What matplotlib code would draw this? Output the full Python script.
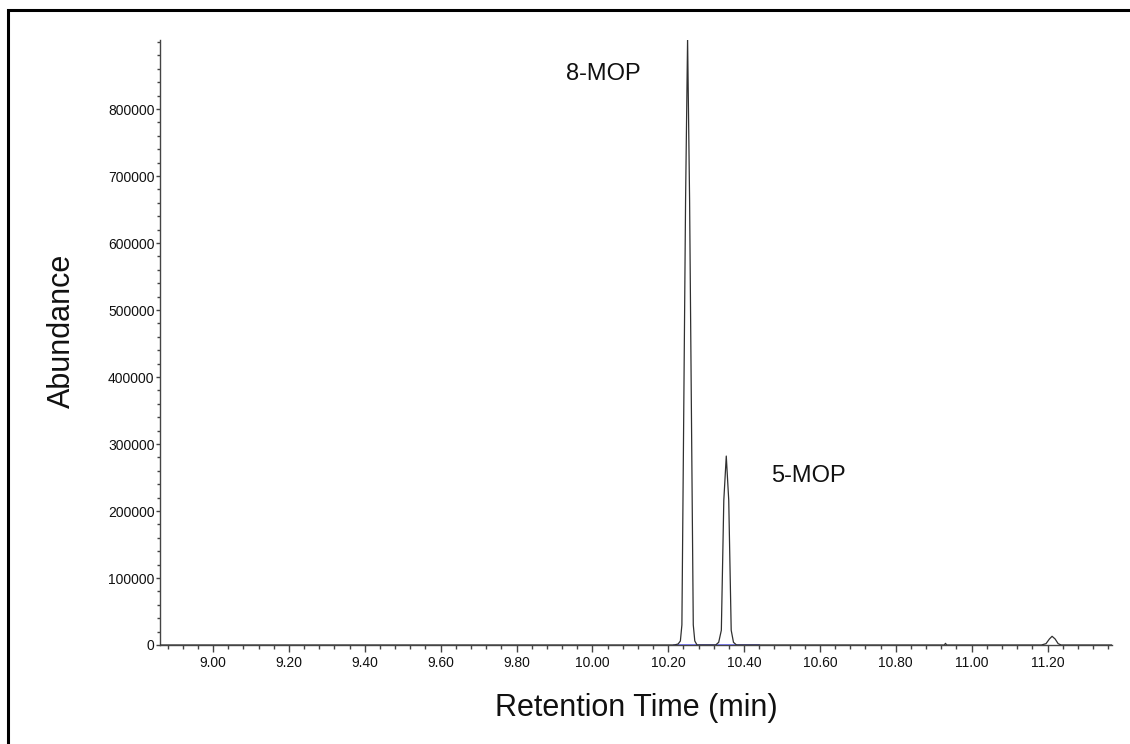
import matplotlib
matplotlib.use("Agg")
import matplotlib.pyplot as plt
from matplotlib.patches import Rectangle
from matplotlib.ticker import MultipleLocator, FixedLocator, FormatStrFormatter

plt.rcParams["font.family"] = ["Liberation Sans", "DejaVu Sans"]

# Chromatogram trace (retention time in min, abundance)
rt = [8.86, 10.216, 10.226, 10.232, 10.236, 10.240, 10.2457, 10.251, 10.2563,
      10.262, 10.266, 10.270, 10.276, 10.325, 10.333, 10.340, 10.3465, 10.353,
      10.3595, 10.366, 10.372, 10.380, 10.928, 10.931, 10.934, 11.184, 11.196,
      11.205, 11.212, 11.220, 11.228, 11.236, 11.37]
abundance = [0, 0, 1500, 6000, 30000, 290000, 664000, 905000, 664000,
             290000, 30000, 6000, 0, 0, 4000, 22000, 216000, 282000,
             216000, 22000, 4000, 0, 0, 2500, 0, 0, 2000,
             9000, 13000, 9000, 2000, 0, 0]

# integration baseline (blue) under the two peaks
baseline_rt = [10.216, 10.44]
baseline_ab = [0, 0]

peak_names = ["8-MOP", "5-MOP"]
peak_label_rt = [10.03, 10.57]
peak_label_ab = [852000, 252000]

y_ticks = [0, 100000, 200000, 300000, 400000, 500000, 600000, 700000, 800000]

fig = plt.figure(figsize=(11.3, 7.44), dpi=100)
ax = fig.add_axes([160 / 1130, 99 / 744, 952 / 1130, 605 / 744])

ax.plot(baseline_rt, baseline_ab, color="#6a6aff", linewidth=1.2, zorder=2)
ax.plot(rt, abundance, color="#303030", linewidth=0.9, zorder=3)

for name, x, y in zip(peak_names, peak_label_rt, peak_label_ab):
    ax.text(x, y, name, fontsize=17, ha="center", va="center", color="#111111")

ax.set_xlim(8.86, 11.37)
ax.set_ylim(0, 903000)

ax.xaxis.set_major_locator(MultipleLocator(0.2))
ax.xaxis.set_minor_locator(MultipleLocator(0.04))
ax.xaxis.set_major_formatter(FormatStrFormatter("%.2f"))
ax.yaxis.set_major_locator(FixedLocator(y_ticks))
ax.yaxis.set_minor_locator(MultipleLocator(20000))
ax.yaxis.set_major_formatter(FormatStrFormatter("%d"))

ax.tick_params(axis="x", which="major", labelsize=10, length=5, width=1,
               color="#444444", labelcolor="#111111", pad=3)
ax.tick_params(axis="x", which="minor", length=3, width=1, color="#444444")
ax.tick_params(axis="y", which="major", labelsize=10, length=3, width=1,
               color="#444444", labelcolor="#111111", pad=1)
ax.tick_params(axis="y", which="minor", length=2, width=1, color="#444444")

for side in ["top", "right"]:
    ax.spines[side].set_visible(False)
for side in ["left", "bottom"]:
    ax.spines[side].set_color("#444444")
    ax.spines[side].set_linewidth(1)

ax.set_xlabel("Retention Time (min)", fontsize=22, color="#111111")
ax.set_ylabel("Abundance", fontsize=22, color="#111111")
ax.xaxis.set_label_coords(0.5, -0.079)
ax.yaxis.set_label_coords(-0.087, 0.52)

# outer black frame (runs off the right and bottom edges)
fig.patches.append(Rectangle((8 / 1130, -0.1), 1.2, 1.1 - 10 / 744, transform=fig.transFigure,
                             fill=False, edgecolor="black", linewidth=2.2))

fig.savefig("out.png", dpi=100)
